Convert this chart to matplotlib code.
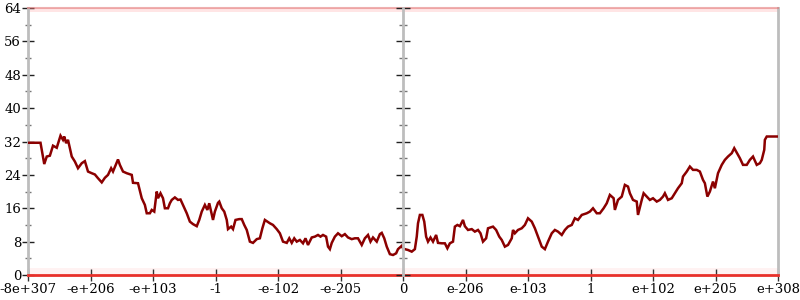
import numpy as np
import matplotlib
matplotlib.use('Agg')
import matplotlib.pyplot as plt

# tick labels along the (symlog-like) x axis, evenly placed
x_labels = ['-8e+307', '-e+206', '-e+103', '-1', '-e-102', '-e-205', '0',
            'e-206', 'e-103', '1', 'e+102', 'e+205', 'e+308']
y_major = [0, 8, 16, 24, 32, 40, 48, 56, 64]

# curve, x given as position along the tick scale (0..12)
pos = [0.00, 0.20, 0.26, 0.30, 0.35, 0.40, 0.46, 0.52, 0.56, 0.58, 0.61, 0.64,
       0.70, 0.75, 0.80, 0.86, 0.91, 0.96, 1.02, 1.07, 1.12, 1.18, 1.23, 1.28,
       1.33, 1.36, 1.44, 1.47, 1.52, 1.58, 1.66, 1.68, 1.76, 1.82, 1.87, 1.90,
       1.95, 1.98, 2.02, 2.06, 2.08, 2.12, 2.16, 2.19, 2.24, 2.27, 2.30, 2.35,
       2.40, 2.44, 2.48, 2.54, 2.59, 2.64, 2.70, 2.74, 2.78, 2.83, 2.87, 2.90,
       2.96, 2.99, 3.04, 3.06, 3.10, 3.14, 3.18, 3.20, 3.25, 3.28, 3.32, 3.38,
       3.42, 3.46, 3.50, 3.55, 3.60, 3.66, 3.71, 3.75, 3.79, 3.83, 3.87, 3.92,
       3.98, 4.03, 4.08, 4.14, 4.18, 4.22, 4.26, 4.30, 4.35, 4.40, 4.44, 4.48,
       4.54, 4.59, 4.64, 4.68, 4.72, 4.77, 4.80, 4.83, 4.86, 4.91, 4.96, 5.02,
       5.07, 5.12, 5.18, 5.23, 5.28, 5.34, 5.39, 5.44, 5.48, 5.52, 5.58, 5.63,
       5.66, 5.70, 5.74, 5.79, 5.84, 5.89, 5.92, 5.98, 6.00, 6.03, 6.08, 6.14,
       6.19, 6.22, 6.24, 6.27, 6.31, 6.34, 6.37, 6.40, 6.44, 6.48, 6.53, 6.56,
       6.62, 6.67, 6.71, 6.75, 6.80, 6.83, 6.87, 6.91, 6.96, 6.99, 7.04, 7.10,
       7.15, 7.20, 7.24, 7.28, 7.33, 7.36, 7.44, 7.49, 7.54, 7.58, 7.63, 7.68,
       7.74, 7.76, 7.79, 7.84, 7.90, 7.95, 8.00, 8.06, 8.11, 8.16, 8.22, 8.27,
       8.32, 8.38, 8.43, 8.48, 8.54, 8.59, 8.64, 8.70, 8.75, 8.80, 8.86, 8.94,
       8.99, 9.04, 9.10, 9.15, 9.21, 9.26, 9.31, 9.37, 9.39, 9.44, 9.50, 9.55,
       9.60, 9.63, 9.68, 9.74, 9.76, 9.82, 9.85, 9.90, 9.95, 10.00, 10.06, 10.11,
       10.16, 10.19, 10.24, 10.30, 10.35, 10.40, 10.46, 10.48, 10.54, 10.59,
       10.64, 10.70, 10.75, 10.80, 10.83, 10.87, 10.91, 10.96, 10.99, 11.04,
       11.10, 11.15, 11.20, 11.26, 11.30, 11.39, 11.44, 11.50, 11.55, 11.60,
       11.66, 11.71, 11.74, 11.78, 11.79, 11.82, 12.00]
vals = [31.7, 31.7, 26.6, 28.4, 28.6, 31.0, 30.5, 33.4, 32.4, 33.2, 31.6, 32.4,
        28.4, 27.2, 25.6, 26.8, 27.3, 24.8, 24.4, 24.1, 23.2, 22.2, 23.3, 24.0,
        25.6, 24.8, 27.7, 26.4, 24.8, 24.4, 24.0, 22.1, 22.0, 18.4, 16.8, 14.8,
        14.8, 15.6, 15.2, 20.0, 18.4, 19.6, 18.4, 16.0, 16.0, 17.2, 18.0, 18.6,
        18.0, 18.1, 16.8, 14.8, 12.8, 12.2, 11.7, 13.2, 15.2, 16.8, 15.6, 17.2,
        13.2, 15.2, 17.3, 17.6, 16.0, 15.2, 13.2, 11.0, 11.6, 11.0, 13.2, 13.4,
        13.4, 12.0, 10.8, 8.0, 7.7, 8.6, 8.8, 11.2, 13.2, 12.8, 12.4, 12.0,
        11.0, 10.0, 8.0, 7.7, 8.8, 7.7, 8.8, 8.0, 8.4, 7.6, 8.8, 7.2,
        9.0, 9.2, 9.6, 9.2, 9.6, 9.2, 6.8, 6.2, 7.7, 9.2, 10.0, 9.3,
        9.8, 9.0, 8.6, 8.8, 8.8, 7.2, 8.8, 9.6, 8.0, 9.0, 8.0, 9.8,
        10.1, 8.8, 6.8, 5.0, 4.8, 5.2, 6.2, 7.0, 6.4, 6.2, 6.0, 5.6,
        6.2, 9.2, 12.4, 14.4, 14.4, 12.8, 9.2, 8.0, 9.0, 8.0, 9.6, 7.7,
        7.6, 7.6, 6.4, 7.6, 8.0, 11.6, 12.0, 11.7, 13.2, 11.7, 10.8, 11.0,
        10.4, 10.8, 10.0, 8.0, 8.8, 11.2, 11.6, 10.8, 9.2, 8.4, 6.8, 7.2,
        8.8, 10.8, 10.0, 10.8, 11.2, 12.0, 13.6, 12.8, 11.2, 9.2, 6.8, 6.2,
        8.0, 10.0, 10.8, 10.4, 9.6, 10.8, 11.6, 12.0, 13.6, 13.2, 14.4, 14.8,
        15.2, 16.0, 14.8, 14.8, 16.0, 17.2, 19.2, 18.4, 15.6, 18.0, 18.8, 21.6,
        21.2, 19.6, 18.0, 17.6, 14.4, 18.0, 19.6, 18.8, 18.0, 18.4, 17.6, 18.0,
        18.8, 19.6, 18.0, 18.4, 19.6, 20.8, 22.0, 23.6, 24.8, 26.0,
        25.2, 25.2, 24.8, 22.8, 22.0, 18.8, 20.0, 22.4, 20.8, 24.4,
        26.4, 27.6, 28.4, 29.2, 30.4, 28.0, 26.4, 26.4, 27.6, 28.4,
        26.4, 26.8, 27.6, 30.0, 32.4, 33.2, 33.2]

plt.rcParams['font.family'] = 'DejaVu Serif'
gray = '#bdbdbd'

fig = plt.figure(figsize=(8, 3), dpi=100)
ax = fig.add_axes([0.035, 0.0833, 0.9375, 0.89])

# faint red bands along the top and bottom edges
ax.axhspan(0, 1.8, color='#ff3030', alpha=0.06, lw=0)
ax.axhline(0, color='#e8302a', lw=2, clip_on=False, zorder=3)
ax.axhspan(63.0, 64, color='#ff3030', alpha=0.12, lw=0)
ax.axhline(64, color='#e07070', lw=1.5, alpha=0.55, clip_on=False, zorder=3)

ax.plot(pos, vals, color='#8b0000', lw=1.8, zorder=4, solid_joinstyle='miter')

ax.set_xlim(0, 12)
ax.set_ylim(0, 64)
ax.set_xticks(range(len(x_labels)))
ax.set_xticklabels(x_labels)
ax.set_yticks(y_major)
ax.set_yticks(np.arange(4, 64, 8), minor=True)

for s in ['top', 'bottom']:
    ax.spines[s].set_visible(False)
for s in ['left', 'right']:
    ax.spines[s].set_color(gray)
    ax.spines[s].set_linewidth(2)

ax.tick_params(axis='y', which='major', direction='inout', length=8, width=1,
               color='#222222', labelsize=9.5, pad=1, right=True)
ax.tick_params(axis='y', which='minor', direction='inout', length=5, width=1,
               color='#777777', right=True)
ax.tick_params(axis='x', which='major', direction='inout', length=8, width=1,
               color='#333333', labelsize=9.5, pad=2)

# centre axis at zero
ax2 = ax.twinx()
ax2.set_ylim(0, 64)
ax2.spines['right'].set_position(('axes', 0.5))
ax2.spines['right'].set_color(gray)
ax2.spines['right'].set_linewidth(2)
for s in ['top', 'bottom', 'left']:
    ax2.spines[s].set_visible(False)
ax2.set_yticks(y_major)
ax2.set_yticks(np.arange(4, 64, 8), minor=True)
ax2.tick_params(axis='y', which='major', direction='inout', length=10, width=1,
                color='#222222', labelright=False)
ax2.tick_params(axis='y', which='minor', direction='inout', length=6, width=1,
                color='#777777')

fig.savefig('out.png', dpi=100)
